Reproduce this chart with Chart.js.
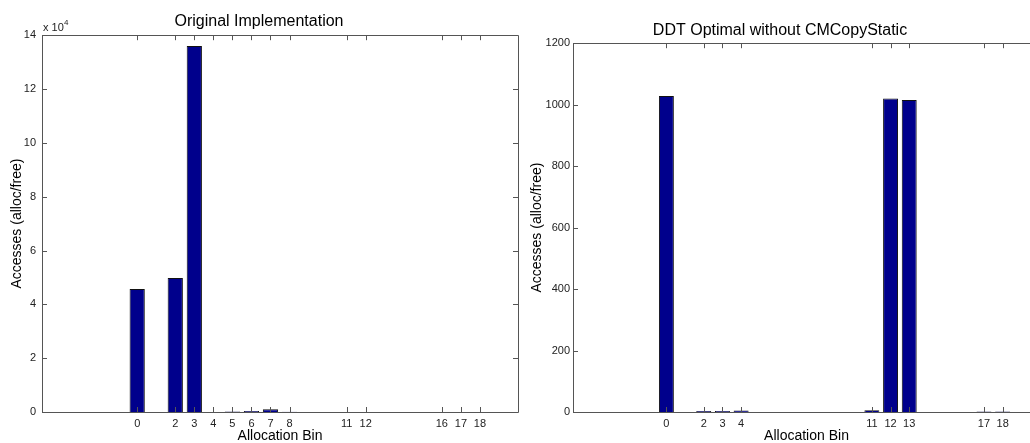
<!DOCTYPE html>
<html>
<head>
<meta charset="utf-8">
<script src="https://cdn.jsdelivr.net/npm/chart.js@4.4.0/dist/chart.umd.min.js"></script>
<style>
  body { margin: 0; background: #fff; }
  #izq { position: absolute; left: 0; top: 0; width: 520px; height: 443px; }
  #der { position: absolute; left: 520px; top: 0; width: 510px; height: 443px; overflow: hidden; }
</style>
</head>
<body>
<div id="izq"><canvas id="GraphOriginal" width="520" height="443"></canvas></div>
<div id="der"><canvas id="GraphDDT" width="525" height="443"></canvas></div>
<script>
// datos grafico izquierdo
var binsOriginal = [0, 2, 3, 4, 5, 6, 7, 8, 11, 12, 16, 17, 18];
var accesosOriginal = [45700, 49800, 136000, 0, 200, 400, 1000, 100, 0, 0, 0, 0, 0];
var ticksYOriginal = [0, 20000, 40000, 60000, 80000, 100000, 120000, 140000];

// datos grafico derecho
var binsDDT = [0, 2, 3, 4, 11, 12, 13, 17, 18];
var accesosDDT = [1028, 3, 3, 5, 6, 1020, 1015, 2, 2];
var ticksYDDT = [0, 200, 400, 600, 800, 1000, 1200];

var colorBarra = "rgb(0, 0, 140)";
var colorEje = "#555";
var fuente = "'Liberation Sans', Arial, Helvetica, sans-serif";

// caja estilo matlab con ticks hacia adentro
var cajaMatlab = {
  id: "cajaMatlab",
  afterDatasetsDraw: function (chart, args, opts) {
    var ctx = chart.ctx;
    var a = chart.chartArea;
    var sx = chart.scales.x;
    var sy = chart.scales.y;
    var largo = 5;
    ctx.save();
    ctx.strokeStyle = colorEje;
    ctx.lineWidth = 1;
    ctx.beginPath();
    ctx.rect(Math.round(a.left) + 0.5, Math.round(a.top) + 0.5, Math.round(a.right - a.left), Math.round(a.bottom - a.top));
    sx.ticks.forEach((t) => {
      var px = Math.round(sx.getPixelForValue(t.value)) + 0.5;
      ctx.moveTo(px, a.bottom);
      ctx.lineTo(px, a.bottom - largo);
      ctx.moveTo(px, a.top);
      ctx.lineTo(px, a.top + largo);
    });
    sy.ticks.forEach((t) => {
      var py = Math.round(sy.getPixelForValue(t.value)) + 0.5;
      ctx.moveTo(a.left, py);
      ctx.lineTo(a.left + largo, py);
      ctx.moveTo(a.right, py);
      ctx.lineTo(a.right - largo, py);
    });
    ctx.stroke();
    if (opts && opts.exponente) {
      ctx.fillStyle = "#222";
      ctx.font = "11px " + fuente;
      ctx.textBaseline = "alphabetic";
      ctx.fillText("x 10", a.left + 1, a.top - 4);
      ctx.font = "8px " + fuente;
      ctx.fillText("4", a.left + 22, a.top - 10);
    }
    ctx.restore();
  },
};

function crearGrafico(id, bins, accesos, ticksY, titulo, opciones) {
  const ctx = document.getElementById(id);
  return new Chart(ctx, {
    type: "bar",
    data: {
      datasets: [
        {
          label: "Accesses",
          data: bins.map((b, i) => ({ x: b, y: accesos[i] })),
          backgroundColor: colorBarra,
          borderColor: "#111",
          borderWidth: 1,
          borderSkipped: "start",
          barPercentage: 0.8,
          categoryPercentage: 1,
        },
      ],
    },
    options: {
      responsive: false,
      animation: false,
      layout: { padding: { left: 0, right: opciones.derecha, top: 0, bottom: 0 } },
      plugins: {
        legend: { display: false },
        tooltip: { enabled: false },
        title: {
          display: true,
          text: titulo,
          color: "#000",
          font: { family: fuente, size: 16, weight: "normal" },
          padding: { top: opciones.tituloArriba, bottom: opciones.tituloAbajo },
        },
        cajaMatlab: { exponente: opciones.exponente },
      },
      scales: {
        x: {
          type: "linear",
          min: -5,
          max: 20,
          offset: false,
          grid: { display: false, drawTicks: false },
          border: { display: false },
          afterBuildTicks: function (scale) {
            scale.ticks = bins.map((b) => ({ value: b }));
          },
          afterFit: function (scale) {
            scale.height = 31;
          },
          ticks: {
            color: "#222",
            padding: 5,
            maxRotation: 0,
            autoSkip: false,
            font: { family: fuente, size: 11 },
            callback: function (v) {
              return String(v);
            },
          },
          title: {
            display: true,
            text: "Allocation Bin",
            color: "#000",
            font: { family: fuente, size: 14, lineHeight: 1 },
            padding: { top: 0, bottom: 0 },
          },
        },
        y: {
          min: 0,
          max: ticksY[ticksY.length - 1],
          grid: { display: false, drawTicks: false },
          border: { display: false },
          afterBuildTicks: function (scale) {
            scale.ticks = ticksY.map((v) => ({ value: v }));
          },
          afterFit: function (scale) {
            scale.width = opciones.anchoY;
          },
          ticks: {
            color: "#222",
            padding: opciones.paddingY,
            font: { family: fuente, size: 11 },
            callback: function (v) {
              return opciones.exponente ? String(v / 10000) : String(v);
            },
          },
          title: {
            display: true,
            text: "Accesses (alloc/free)",
            color: "#000",
            font: { family: fuente, size: 14, lineHeight: 1 },
            padding: { top: 10, bottom: 0 },
          },
        },
      },
    },
    plugins: [cajaMatlab],
  });
}

window.onload = function () {
  window.graphOriginal = crearGrafico("GraphOriginal", binsOriginal, accesosOriginal, ticksYOriginal,
    "Original Implementation",
    { derecha: 2, anchoY: 42, paddingY: 6, tituloArriba: 12, tituloAbajo: 4, exponente: true });
  window.graphDDT = crearGrafico("GraphDDT", binsDDT, accesosDDT, ticksYDDT,
    "DDT Optimal without CMCopyStatic",
    { derecha: 5, anchoY: 53, paddingY: 3, tituloArriba: 21, tituloAbajo: 3, exponente: false });
};
</script>
</body>
</html>
